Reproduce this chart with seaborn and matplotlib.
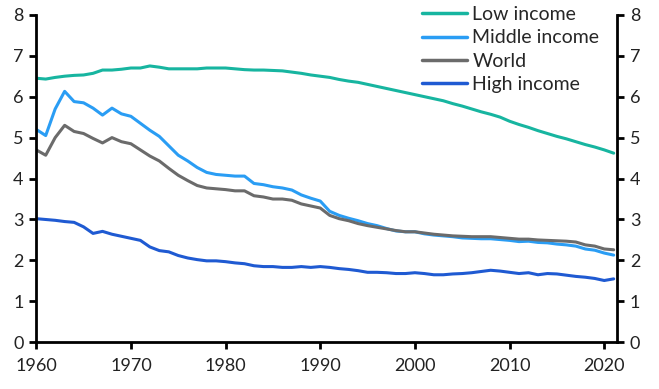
import matplotlib
matplotlib.use('Agg')
import matplotlib.pyplot as plt
import seaborn as sns
import pandas as pd

# Fertility rate (births per woman), 1960-2021
years = list(range(1960, 2022))

low_income = [6.45, 6.43, 6.47, 6.50, 6.52, 6.53, 6.57, 6.65, 6.65, 6.67,
              6.70, 6.70, 6.75, 6.72, 6.68, 6.68, 6.68, 6.68, 6.70, 6.70,
              6.70, 6.68, 6.66, 6.65, 6.65, 6.64, 6.63, 6.60, 6.57, 6.53,
              6.50, 6.47, 6.42, 6.38, 6.35, 6.30, 6.25, 6.20, 6.15, 6.10,
              6.05, 6.00, 5.95, 5.90, 5.83, 5.77, 5.70, 5.63, 5.57, 5.50,
              5.40, 5.32, 5.25, 5.17, 5.10, 5.03, 4.97, 4.90, 4.83, 4.77,
              4.70, 4.62]

middle_income = [5.20, 5.05, 5.70, 6.13, 5.88, 5.85, 5.72, 5.55, 5.72, 5.58,
                 5.52, 5.35, 5.18, 5.03, 4.80, 4.57, 4.43, 4.27, 4.15, 4.10,
                 4.08, 4.06, 4.06, 3.88, 3.85, 3.80, 3.77, 3.72, 3.60, 3.52,
                 3.45, 3.20, 3.10, 3.03, 2.97, 2.90, 2.85, 2.78, 2.72, 2.70,
                 2.70, 2.65, 2.62, 2.60, 2.58, 2.55, 2.54, 2.53, 2.53, 2.51,
                 2.49, 2.46, 2.47, 2.44, 2.43, 2.40, 2.38, 2.35, 2.28, 2.25,
                 2.18, 2.13]

world = [4.70, 4.57, 5.00, 5.30, 5.15, 5.10, 4.98, 4.87, 5.00, 4.90,
         4.85, 4.70, 4.55, 4.43, 4.25, 4.08, 3.95, 3.83, 3.77, 3.75,
         3.73, 3.70, 3.70, 3.58, 3.55, 3.50, 3.50, 3.47, 3.38, 3.33,
         3.28, 3.10, 3.02, 2.97, 2.90, 2.85, 2.81, 2.77, 2.73, 2.70,
         2.70, 2.67, 2.64, 2.62, 2.60, 2.59, 2.58, 2.58, 2.58, 2.56,
         2.54, 2.52, 2.52, 2.50, 2.49, 2.48, 2.47, 2.45, 2.38, 2.35,
         2.28, 2.26]

high_income = [3.02, 3.00, 2.98, 2.95, 2.93, 2.82, 2.66, 2.71, 2.64, 2.59,
               2.54, 2.49, 2.33, 2.24, 2.21, 2.12, 2.06, 2.02, 1.99, 1.99,
               1.97, 1.94, 1.92, 1.87, 1.85, 1.85, 1.83, 1.83, 1.85, 1.83,
               1.85, 1.83, 1.80, 1.78, 1.75, 1.71, 1.71, 1.70, 1.68, 1.68,
               1.70, 1.68, 1.65, 1.65, 1.67, 1.68, 1.70, 1.73, 1.76, 1.74,
               1.71, 1.68, 1.70, 1.65, 1.68, 1.67, 1.64, 1.61, 1.59, 1.56,
               1.51, 1.55]

series_names = ['Low income', 'Middle income', 'World', 'High income']
colors = ['#17B5A0', '#2A9DF4', '#6B6B6B', '#1F5AD2']

df = pd.DataFrame({
    'year': years * 4,
    'value': low_income + middle_income + world + high_income,
    'group': [n for n in series_names for _ in years],
})

sns.set_theme(style='white')
plt.rcParams['font.family'] = ['Lato', 'DejaVu Sans']

fig, ax = plt.subplots(figsize=(6.59, 3.89), dpi=100)
sns.lineplot(data=df, x='year', y='value', hue='group', hue_order=series_names,
             palette=colors, linewidth=2.2, ax=ax)

ax.set_xlim(1960, 2021.4)
ax.set_ylim(0, 8)
ax.set_xticks(range(1960, 2021, 10))
ax.set_yticks(range(0, 9))
ax.set_xlabel('')
ax.set_ylabel('')

ax.spines['top'].set_visible(False)
for s in ['left', 'right', 'bottom']:
    ax.spines[s].set_visible(True)
    ax.spines[s].set_color('black')
    ax.spines[s].set_linewidth(2)

ax.tick_params(axis='both', which='both', direction='out', length=5, width=2,
               color='black', labelsize=13, labelcolor='#222222')
ax.tick_params(axis='y', left=True, right=True, labelleft=True, labelright=True, pad=4)
ax.tick_params(axis='x', bottom=True, pad=6)

leg = ax.legend(loc='upper left', bbox_to_anchor=(0.65, 1.05), frameon=False,
                fontsize=14, handlelength=2.3, handletextpad=0.3,
                labelspacing=0.32, borderaxespad=0)
for line in leg.get_lines():
    line.set_linewidth(2.5)

plt.subplots_adjust(left=0.055, right=0.937, top=0.962, bottom=0.12)
plt.savefig('out.png', dpi=100)
plt.close()
